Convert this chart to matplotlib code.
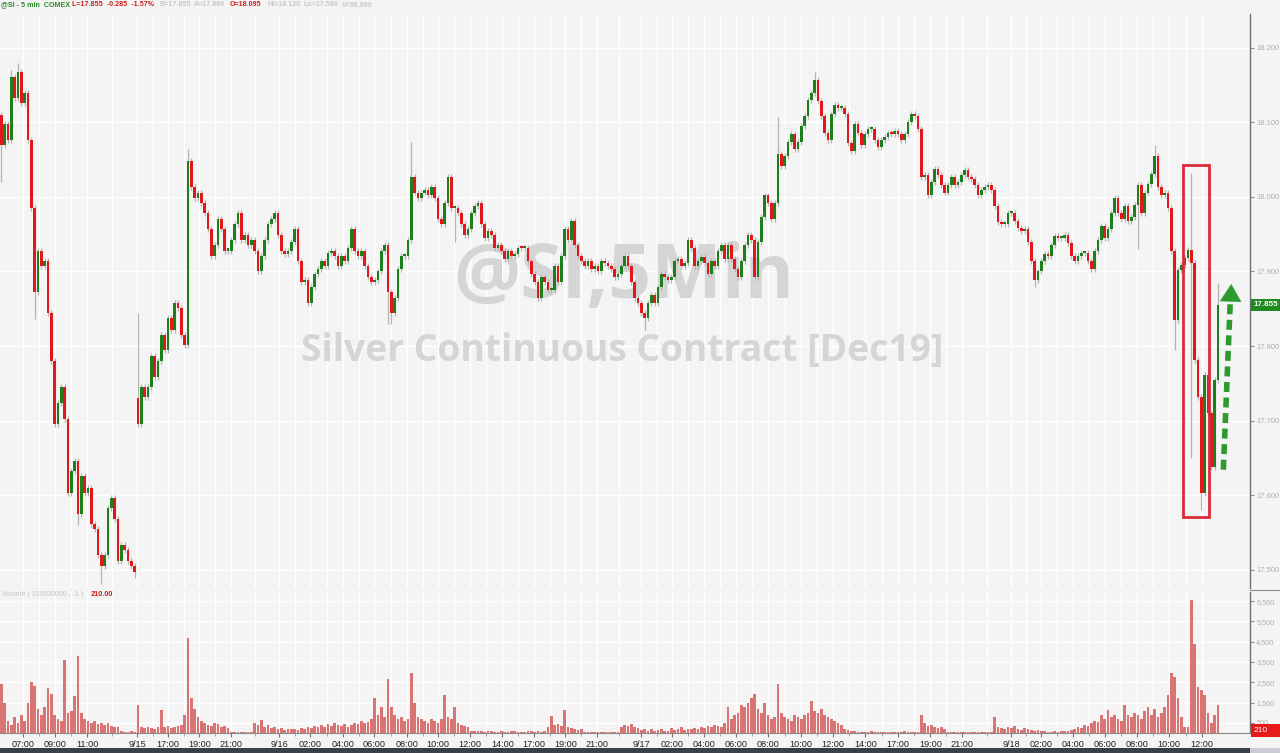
import matplotlib
matplotlib.use('Agg')
import matplotlib.pyplot as plt
import numpy as np
from matplotlib.patches import Rectangle
from matplotlib.lines import Line2D

plt.rcParams['font.family'] = ['Liberation Sans', 'DejaVu Sans']

# ---------------- data (5-min COMEX silver, resampled to chart slots) ----------------
closes = [
    18.070, 18.098, 18.077, 18.161, 18.133, 18.168, 18.126, 18.140, 18.077, 17.985,
    17.872, 17.928, 17.907, 17.914, 17.844, 17.780, 17.695, 17.724, 17.745, 17.702,
    17.603, 17.632, 17.646, 17.575, 17.625, 17.603, 17.610, 17.561, 17.554, 17.519,
    17.505, 17.519, 17.582, 17.596, 17.568, 17.512, 17.533, 17.526, 17.512, 17.505,
    17.497, 17.695, 17.745, 17.731, 17.745, 17.787, 17.759, 17.780, 17.815, 17.794,
    17.837, 17.822, 17.858, 17.851, 17.815, 17.801, 18.048, 18.013, 17.999, 18.006,
    17.992, 17.978, 17.957, 17.921, 17.935, 17.971, 17.957, 17.928, 17.928, 17.942,
    17.964, 17.978, 17.942, 17.949, 17.935, 17.942, 17.928, 17.900, 17.921, 17.942,
    17.964, 17.971, 17.978, 17.949, 17.928, 17.924, 17.928, 17.940, 17.957, 17.914,
    17.886, 17.889, 17.858, 17.879, 17.897, 17.903, 17.914, 17.907, 17.925, 17.928,
    17.921, 17.907, 17.921, 17.914, 17.931, 17.957, 17.928, 17.921, 17.928, 17.907,
    17.893, 17.886, 17.889, 17.900, 17.928, 17.935, 17.872, 17.844, 17.865, 17.903,
    17.921, 17.921, 17.942, 18.027, 18.006, 17.999, 18.006, 18.009, 18.003, 18.013,
    17.999, 17.971, 17.964, 17.992, 18.027, 17.985, 17.985, 17.978, 17.964, 17.949,
    17.957, 17.978, 17.988, 17.992, 17.964, 17.945, 17.954, 17.949, 17.932, 17.935,
    17.928, 17.917, 17.928, 17.921, 17.924, 17.932, 17.931, 17.932, 17.914, 17.897,
    17.886, 17.865, 17.893, 17.886, 17.875, 17.875, 17.907, 17.886, 17.921, 17.957,
    17.942, 17.968, 17.935, 17.921, 17.914, 17.907, 17.914, 17.903, 17.907, 17.900,
    17.914, 17.911, 17.907, 17.903, 17.893, 17.897, 17.907, 17.921, 17.907, 17.886,
    17.865, 17.858, 17.844, 17.837, 17.858, 17.869, 17.858, 17.879, 17.897, 17.893,
    17.889, 17.893, 17.914, 17.917, 17.907, 17.911, 17.942, 17.932, 17.907, 17.914,
    17.920, 17.911, 17.897, 17.914, 17.907, 17.928, 17.935, 17.917, 17.935, 17.917,
    17.903, 17.893, 17.914, 17.935, 17.949, 17.942, 17.893, 17.940, 17.973, 18.002,
    17.992, 17.971, 17.992, 18.058, 18.041, 18.055, 18.074, 18.084, 18.065, 18.074,
    18.095, 18.109, 18.130, 18.140, 18.157, 18.129, 18.109, 18.086, 18.077, 18.112,
    18.123, 18.119, 18.119, 18.112, 18.072, 18.062, 18.098, 18.086, 18.070, 18.084,
    18.091, 18.091, 18.077, 18.067, 18.077, 18.081, 18.086, 18.084, 18.088, 18.084,
    18.077, 18.084, 18.101, 18.112, 18.109, 18.091, 18.027, 18.030, 18.002, 18.020,
    18.038, 18.030, 18.016, 18.006, 18.016, 18.027, 18.016, 18.020, 18.030, 18.036,
    18.027, 18.024, 18.016, 18.002, 18.010, 18.013, 18.016, 18.010, 17.988, 17.966,
    17.964, 17.964, 17.978, 17.978, 17.968, 17.959, 17.954, 17.957, 17.940, 17.914,
    17.889, 17.900, 17.914, 17.924, 17.921, 17.935, 17.947, 17.945, 17.945, 17.949,
    17.938, 17.921, 17.914, 17.921, 17.925, 17.925, 17.914, 17.903, 17.928, 17.942,
    17.961, 17.945, 17.957, 17.978, 17.999, 17.978, 17.971, 17.988, 17.968, 17.973,
    17.989, 18.016, 17.978, 18.006, 18.017, 18.031, 18.055, 18.013, 18.002, 18.006,
    17.985, 17.928, 17.835, 17.902, 17.909, 17.918, 17.929, 17.911, 17.781, 17.732,
    17.603, 17.761, 17.710, 17.638, 17.754, 17.855,
]

# opens that do not equal the previous close (session starts)
session_opens = {0: 18.110, 41: 17.730}

# notable wicks
wick_high = {3: 18.170, 5: 18.180, 41: 17.844, 56: 18.065, 123: 18.074, 233: 18.108,
             244: 18.168, 346: 18.070, 357: 18.032, 365: 17.885}
wick_low = {0: 18.020, 10: 17.836, 23: 17.560, 30: 17.480, 40: 17.488, 116: 17.830,
            117: 17.830, 136: 17.940, 193: 17.822, 310: 17.879, 341: 17.930,
            352: 17.795, 357: 17.650, 360: 17.580}

volumes = [
    2400, 1500, 600, 400, 800, 500, 900, 600, 1500, 2500,
    2300, 1200, 900, 1300, 2200, 1900, 900, 700, 600, 3600,
    1000, 1100, 1800, 3800, 1000, 700, 600, 500, 600, 450,
    500, 400, 500, 350, 300, 300, 100, 50, 60, 80,
    40, 1400, 300, 250, 300, 250, 200, 300, 1150, 300,
    350, 250, 300, 350, 400, 900, 4700, 1700, 1200, 800,
    600, 500, 400, 350, 500, 450, 300, 350, 250, 50,
    30, 40, 50, 30, 40, 60, 500, 400, 650, 300,
    400, 250, 300, 200, 250, 150, 200, 180, 200, 150,
    250, 200, 300, 250, 350, 300, 400, 300, 450, 350,
    500, 400, 350, 450, 300, 400, 500, 450, 600, 500,
    550, 700, 1700, 900, 1300, 800, 2650, 1300, 900, 700,
    800, 600, 700, 2950, 1500, 800, 700, 600, 500, 700,
    600, 500, 700, 1850, 800, 700, 1300, 500, 400, 350,
    300, 100, 80, 120, 90, 60, 100, 80, 50, 70,
    100, 60, 50, 80, 90, 70, 60, 50, 80, 100,
    70, 80, 60, 90, 300, 850, 400, 450, 350, 1130,
    300, 250, 200, 150, 200, 50, 40, 60, 30, 50,
    40, 30, 40, 50, 30, 40, 300, 400, 350, 450,
    300, 250, 150, 200, 120, 180, 100, 150, 200, 120,
    100, 250, 150, 200, 300, 150, 200, 180, 250, 200,
    300, 250, 350, 300, 400, 350, 300, 500, 1300, 700,
    900, 1000, 1400, 1300, 1500, 1700, 1900, 1200, 1000, 1500,
    900, 700, 800, 2400, 1000, 800, 700, 600, 900, 800,
    700, 900, 1000, 1600, 1100, 1000, 1200, 900, 800, 700,
    600, 500, 400, 200, 150, 100, 80, 60, 70, 50,
    60, 90, 50, 60, 70, 40, 60, 50, 70, 60,
    50, 80, 60, 50, 70, 60, 900, 500, 350, 400,
    300, 250, 300, 200, 50, 40, 60, 50, 30, 40,
    60, 50, 40, 50, 30, 60, 40, 50, 800, 300,
    250, 200, 300, 250, 350, 200, 150, 250, 200, 150,
    100, 150, 100, 80, 60, 50, 80, 60, 100, 80,
    120, 150, 200, 300, 250, 400, 350, 500, 600, 550,
    900, 700, 1130, 800, 900, 700, 600, 1400, 900, 800,
    1000, 900, 700, 1100, 1300, 900, 1200, 800, 1000, 1300,
    1870, 2970, 2740, 1700, 800, 300, 300, 6560, 4390, 2280,
    2100, 1870, 1000, 500, 900, 1360,
]

tick_pos = [6.5, 16, 25.8, 40.8, 50, 59.4, 69, 83.4, 92.7, 102.6, 111.9, 121.8,
            131.1, 140.7, 150.3, 159.9, 169.2, 178.8, 192, 201.3, 210.9, 220.5,
            230.1, 240, 249.6, 259.2, 269.1, 278.7, 288.3, 303, 312, 321.6, 331.2,
            340.8, 350.4, 360.3]
tick_labels = ['07:00', '09:00', '11:00', '9/15', '17:00', '19:00', '21:00', '9/16',
               '02:00', '04:00', '06:00', '08:00', '10:00', '12:00', '14:00', '17:00',
               '19:00', '21:00', '9/17', '02:00', '04:00', '06:00', '08:00', '10:00',
               '12:00', '14:00', '17:00', '19:00', '21:00', '9/18', '02:00', '04:00',
               '06:00', '08:00', '10:00', '12:00']

price_ticks = [17.5, 17.6, 17.7, 17.8, 17.9, 18.0, 18.1, 18.2]
vol_ticks = [500, 1500, 2500, 3500, 4500, 5500, 6500]
last_price = 17.855
last_volume = 210

assert len(closes) == len(volumes), (len(closes), len(volumes))

# ---------------- styling ----------------
W, H = 1280, 753
BG = '#f4f4f4'
GREEN = '#1c7f1c'
RED = '#e3161b'
WICK = '#b4b4b4'
VOLC = '#d87474'
GRID = '#ffffff'


def fx(px):
    return px / W


def fy(py):
    return 1 - py / H


fig = plt.figure(figsize=(W / 100, H / 100), dpi=100)
fig.patch.set_facecolor(BG)

ax = fig.add_axes([0, fy(588), fx(1250), (588 - 14) / H])
axv = fig.add_axes([0, fy(733), fx(1250), (733 - 592) / H], sharex=ax)
for a in (ax, axv):
    a.set_facecolor(BG)
    for s in ('left', 'top', 'bottom'):
        a.spines[s].set_visible(False)
    a.spines['right'].set_color('#707070')
    a.spines['right'].set_linewidth(1.0)

n = len(closes)
xs = np.arange(n)
c = np.array(closes)
o = np.array([session_opens.get(i, closes[i - 1] if i > 0 else closes[0]) for i in range(n)])
up = c >= o
blo = np.minimum(o, c)
bhi = np.maximum(o, c)
hi = np.array([wick_high.get(i, bhi[i] + 0.004) for i in range(n)])
lo = np.array([wick_low.get(i, blo[i] - 0.004) for i in range(n)])
h = np.maximum(bhi - blo, 0.003)

ax.vlines(xs, lo, hi, color=WICK, lw=0.9, zorder=2)
ax.bar(xs[up], h[up], bottom=blo[up], width=0.88, color=GREEN, lw=0, zorder=3)
ax.bar(xs[~up], h[~up], bottom=blo[~up], width=0.88, color=RED, lw=0, zorder=3)

ax.set_xlim(-0.4, 374.6)
ax.set_ylim(17.4752, 18.2456)

# grid
minor = [(a + b) / 2 for a, b in zip(tick_pos[:-1], tick_pos[1:])]
for a in (ax, axv):
    for xv in tick_pos + minor:
        a.axvline(xv, color=GRID, lw=1.0, zorder=0)
for yv in price_ticks:
    ax.axhline(yv, color=GRID, lw=1.0, zorder=0)

ax.yaxis.tick_right()
ax.set_yticks(price_ticks)
ax.set_yticklabels([f'{v:.3f}' for v in price_ticks])
ax.tick_params(axis='y', labelsize=5.5, labelcolor='#b0b0b0', color='#909090',
               length=3, pad=1.5, width=0.8)
ax.tick_params(axis='x', which='both', bottom=False, labelbottom=False)

# volume
axv.bar(xs, volumes, width=0.75, color=VOLC, lw=0, zorder=3)
axv.set_ylim(0, 6946)
for yv in vol_ticks:
    axv.axhline(yv, color=GRID, lw=1.0, zorder=0)
axv.yaxis.tick_right()
axv.set_yticks(vol_ticks)
axv.set_yticklabels([f'{v:,}' for v in vol_ticks])
axv.tick_params(axis='y', labelsize=5.3, labelcolor='#b0b0b0', color='#909090',
                length=3, pad=1.5, width=0.8)
axv.spines['bottom'].set_visible(True)
axv.spines['bottom'].set_color('#8a8a8a')
axv.spines['bottom'].set_linewidth(0.8)
axv.set_xticks(tick_pos)
axv.set_xticklabels(tick_labels)
axv.set_xticks(minor, minor=True)
axv.tick_params(axis='x', which='major', labelsize=6.6, labelcolor='#222222',
                color='#777777', length=3, pad=2, width=0.8)
axv.tick_params(axis='x', which='minor', color='#999999', length=2, width=0.6)

# watermark (behind candles)
ax.text(fx(624), fy(279), '@SI,5Min', transform=fig.transFigure, ha='center',
        va='center', fontsize=54, fontweight='bold', color='#d5d5d5',
        family='Open Sans', zorder=1)
ax.text(fx(622), fy(351), 'Silver Continuous Contract [Dec19]', transform=fig.transFigure,
        ha='center', va='center', fontsize=26.8, fontweight='bold', color='#d5d5d5',
        family='Open Sans', zorder=1)

# highlight box and arrow
ax.add_patch(Rectangle((354.6, 17.570), 7.8, 0.473, fill=False, ec='#dd2a3a',
                       lw=2.0, zorder=6))
ax.plot([366.6, 368.7], [17.634, 17.862], color='#2c9a2c', lw=4,
        ls=(0, (1.8, 1.0)), solid_capstyle='butt', zorder=6)
ax.annotate('', xy=(369.0, 17.887), xytext=(368.75, 17.855),
            arrowprops=dict(arrowstyle='-|>,head_length=0.9,head_width=0.55',
                            color='#2c9a2c', lw=0.1, mutation_scale=14), zorder=7)

# last price / volume tags
fig.text(fx(1266), fy(305), f'{last_price:.3f}', ha='center', va='center', fontsize=5.8,
         color='white', fontweight='bold',
         bbox=dict(boxstyle='square,pad=0.3', fc='#1f8a1f', ec='none'))
fig.patches.append(Rectangle((fx(1251), fy(737)), fx(29), 13 / H, transform=fig.transFigure,
                             fc='#e8191b', ec='none'))
fig.text(fx(1254), fy(730.5), f'{last_volume}', ha='left', va='center', fontsize=6.0,
         color='white')

# separator in right margin and scrollbar
fig.add_artist(Line2D([fx(1250), fx(1280)], [fy(590), fy(590)], color='#8a8a8a', lw=0.8))
fig.patches.append(Rectangle((0, 0), fx(1250), 5 / H, transform=fig.transFigure,
                             fc='#3b4048', ec='none'))
fig.patches.append(Rectangle((fx(1250), 0), fx(30), 5 / H, transform=fig.transFigure,
                             fc='#c9ccd1', ec='none'))

# header
hy = fy(5)
hdr = [
    (1, '@SI - 5 min  COMEX', '#2a8a2a'),
    (72, 'L=17.855  -0.285  -1.57%', '#cc2020'),
    (160, 'B=17.855', '#c8c8c8'),
    (194, 'A=17.860', '#c8c8c8'),
    (230, 'O=18.095', '#cc2020'),
    (267, 'Hi=18.120', '#c8c8c8'),
    (304, 'Lo=17.580', '#c8c8c8'),
    (342, 'V=96,899', '#c8c8c8'),
]
for px, txt, col in hdr:
    fig.text(fx(px), hy, txt, ha='left', va='center', fontsize=5.1, color=col,
             fontweight='bold')

fig.text(fx(2), fy(594), 'Volume ( 100000000 , -1 )', ha='left', va='center',
         fontsize=5.0, color='#c4c4c4')
fig.text(fx(91), fy(594), '210.00', ha='left', va='center', fontsize=5.3,
         color='#cc2020', fontweight='bold')

fig.savefig('out.png', dpi=100, facecolor=BG)
